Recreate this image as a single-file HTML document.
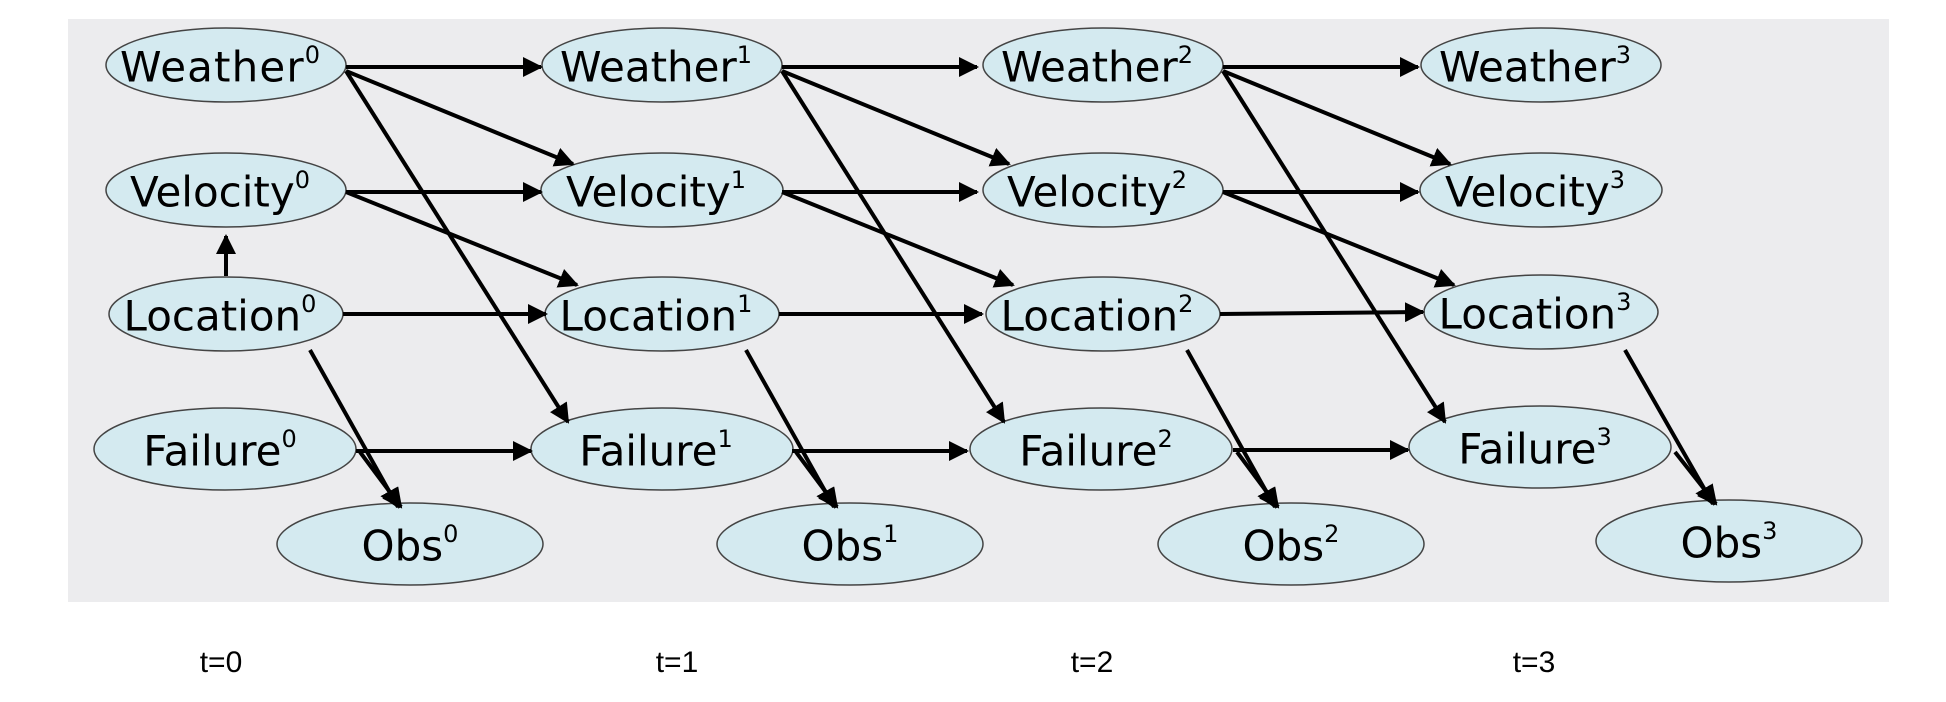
<!DOCTYPE html>
<html><head><meta charset="utf-8"><style>
html,body{margin:0;padding:0;background:#fff;}
svg{display:block;}
.n{fill:#d4eaf0;stroke:#444;stroke-width:1.5;}
.t{font-family:"DejaVu Sans","Liberation Sans",sans-serif;font-size:42px;fill:#000;text-anchor:middle;dominant-baseline:central;}
.s{font-size:24px;}
.e line{stroke:#000;stroke-width:4;marker-end:url(#a);}
.lab{font-family:"Liberation Sans",sans-serif;font-size:30px;fill:#000;text-anchor:middle;}
</style></head><body>
<svg width="1946" height="702" viewBox="0 0 1946 702" xmlns="http://www.w3.org/2000/svg">
<defs><marker id="a" markerWidth="5" markerHeight="5" refX="4.5" refY="2.5" orient="auto" markerUnits="strokeWidth"><path d="M0,0 L5,2.5 L0,5 z" fill="#000"/></marker></defs>
<rect x="68" y="19" width="1821" height="583" fill="#ececee"/>

<g>
<ellipse class="n" cx="226" cy="65" rx="120" ry="37"/><text class="t" x="220" y="67" textLength="200">Weather<tspan class="s" dy="-12">0</tspan></text>
<ellipse class="n" cx="226" cy="190" rx="120" ry="37"/><text class="t" x="220" y="192">Velocity<tspan class="s" dy="-12">0</tspan></text>
<ellipse class="n" cx="226" cy="314" rx="117" ry="37"/><text class="t" x="220" y="316">Location<tspan class="s" dy="-12">0</tspan></text>
<ellipse class="n" cx="225" cy="449" rx="131" ry="41"/><text class="t" x="220" y="451">Failure<tspan class="s" dy="-12">0</tspan></text>
<ellipse class="n" cx="410" cy="544" rx="133" ry="41"/><text class="t" x="410" y="546">Obs<tspan class="s" dy="-12">0</tspan></text>

<ellipse class="n" cx="662" cy="65" rx="120" ry="37"/><text class="t" x="656" y="67">Weather<tspan class="s" dy="-12">1</tspan></text>
<ellipse class="n" cx="662" cy="190" rx="121" ry="37"/><text class="t" x="656" y="192">Velocity<tspan class="s" dy="-12">1</tspan></text>
<ellipse class="n" cx="662" cy="314" rx="117" ry="37"/><text class="t" x="656" y="316">Location<tspan class="s" dy="-12">1</tspan></text>
<ellipse class="n" cx="662" cy="449" rx="131" ry="41"/><text class="t" x="656" y="451">Failure<tspan class="s" dy="-12">1</tspan></text>
<ellipse class="n" cx="850" cy="544" rx="133" ry="41"/><text class="t" x="850" y="546">Obs<tspan class="s" dy="-12">1</tspan></text>

<ellipse class="n" cx="1103" cy="65" rx="120" ry="37"/><text class="t" x="1097" y="67">Weather<tspan class="s" dy="-12">2</tspan></text>
<ellipse class="n" cx="1103" cy="190" rx="120" ry="37"/><text class="t" x="1097" y="192">Velocity<tspan class="s" dy="-12">2</tspan></text>
<ellipse class="n" cx="1103" cy="314" rx="117" ry="37"/><text class="t" x="1097" y="316">Location<tspan class="s" dy="-12">2</tspan></text>
<ellipse class="n" cx="1101" cy="449" rx="131" ry="41"/><text class="t" x="1096" y="451">Failure<tspan class="s" dy="-12">2</tspan></text>
<ellipse class="n" cx="1291" cy="544" rx="133" ry="41"/><text class="t" x="1291" y="546">Obs<tspan class="s" dy="-12">2</tspan></text>

<ellipse class="n" cx="1541" cy="65" rx="120" ry="37"/><text class="t" x="1535" y="67">Weather<tspan class="s" dy="-12">3</tspan></text>
<ellipse class="n" cx="1541" cy="190" rx="121" ry="37"/><text class="t" x="1535" y="192">Velocity<tspan class="s" dy="-12">3</tspan></text>
<ellipse class="n" cx="1541" cy="312" rx="117" ry="37"/><text class="t" x="1535" y="314">Location<tspan class="s" dy="-12">3</tspan></text>
<ellipse class="n" cx="1540" cy="447" rx="131" ry="41"/><text class="t" x="1535" y="449">Failure<tspan class="s" dy="-12">3</tspan></text>
<ellipse class="n" cx="1729" cy="541" rx="133" ry="41"/><text class="t" x="1729" y="543">Obs<tspan class="s" dy="-12">3</tspan></text>
</g>

<g class="e">
<g>
<line x1="346" y1="67" x2="541" y2="67"/>
<line x1="346" y1="71" x2="573" y2="164"/>
<line x1="346" y1="71" x2="568" y2="422"/>
<line x1="346" y1="192" x2="541" y2="192"/>
<line x1="346" y1="192" x2="577" y2="285"/>
<line x1="343" y1="314" x2="546" y2="314"/>
<line x1="310" y1="350" x2="398" y2="507"/>
<line x1="356" y1="451" x2="531" y2="451"/>
<line x1="360" y1="452" x2="401" y2="507"/>
</g>
<g transform="translate(436,0)">
<line x1="346" y1="67" x2="541" y2="67"/>
<line x1="346" y1="71" x2="573" y2="164"/>
<line x1="346" y1="71" x2="568" y2="422"/>
<line x1="346" y1="192" x2="541" y2="192"/>
<line x1="346" y1="192" x2="577" y2="285"/>
<line x1="343" y1="314" x2="546" y2="314"/>
<line x1="310" y1="350" x2="398" y2="507"/>
<line x1="356" y1="451" x2="531" y2="451"/>
<line x1="360" y1="452" x2="401" y2="507"/>
</g>
<g transform="translate(877,0)">
<line x1="346" y1="67" x2="541" y2="67"/>
<line x1="346" y1="71" x2="573" y2="164"/>
<line x1="346" y1="71" x2="568" y2="422"/>
<line x1="346" y1="192" x2="541" y2="192"/>
<line x1="346" y1="192" x2="577" y2="285"/>
<line x1="343" y1="314" x2="546" y2="312"/>
<line x1="310" y1="350" x2="398" y2="507"/>
<line x1="356" y1="450" x2="531" y2="450"/>
<line x1="360" y1="452" x2="401" y2="507"/>
</g>
<g transform="translate(1315,0)">
<line x1="310" y1="350" x2="398" y2="504"/>
<line x1="360" y1="452" x2="401" y2="504"/>
</g>
<line x1="226" y1="276" x2="226" y2="236"/>
</g>

<text class="lab" x="221" y="672">t=0</text>
<text class="lab" x="677" y="672">t=1</text>
<text class="lab" x="1092" y="672">t=2</text>
<text class="lab" x="1534" y="672">t=3</text>
</svg>
</body></html>
